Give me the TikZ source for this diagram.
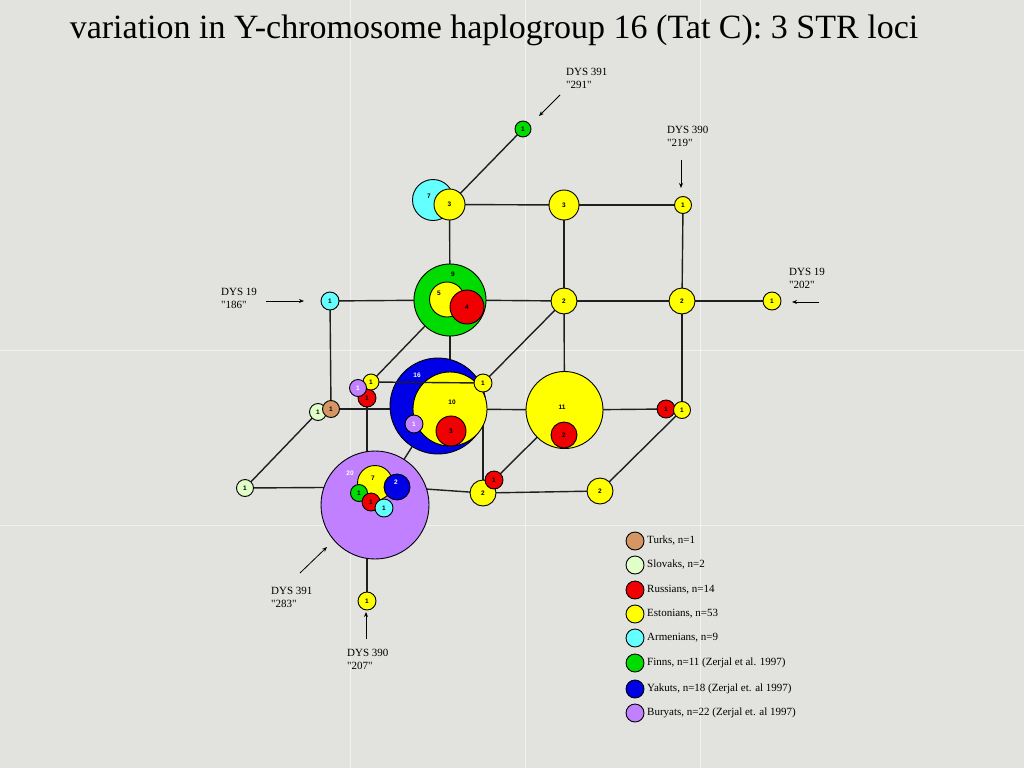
\documentclass[tikz,border=0pt]{standalone}
\usepackage{fontspec}
\setmainfont{Liberation Serif}[Ligatures=TeXOff]
\setsansfont{Liberation Sans}
\usetikzlibrary{arrows.meta,backgrounds}
\definecolor{bg}{RGB}{226,226,223}
\definecolor{yel}{RGB}{255,255,0}
\definecolor{rd}{RGB}{240,0,0}
\definecolor{grn}{RGB}{0,220,0}
\definecolor{cyn}{RGB}{100,255,255}
\definecolor{blu}{RGB}{0,0,230}
\definecolor{lil}{RGB}{192,128,255}
\definecolor{trk}{RGB}{214,150,100}
\definecolor{slv}{RGB}{225,255,200}
\begin{document}
\begin{tikzpicture}[x=1pt,y=-1pt,
 hap/.style={circle,draw=black,line width=0.9pt,inner sep=0pt,outer sep=0pt,font=\sffamily\bfseries\fontsize{6.5}{6.5}\selectfont},
 num/.style={font=\sffamily\bfseries\fontsize{6.5}{6.5}\selectfont,inner sep=0pt},
 wnum/.style={num,text=white},
 edge/.style={draw=black!88,line width=1.4pt},
 arr/.style={-{Stealth[length=5pt,width=4pt]},line width=0.8pt},
 lab/.style={font=\fontsize{11}{13}\selectfont,align=left,anchor=north west,inner sep=0pt},
 leg/.style={font=\fontsize{11}{12}\selectfont,anchor=west,inner sep=0pt},
 grid/.style={draw=white,line width=1pt,opacity=0.55},
]
\useasboundingbox (0,0) rectangle (1024,768);
% background
\begin{scope}[on background layer]
\fill[bg] (0,0) rectangle (1024,768);
\foreach \gx in {350,525,700} {\draw[grid] (\gx,0) -- (\gx,768);}
\foreach \gy in {350,525} {\draw[grid] (0,\gy) -- (1024,\gy);}
\end{scope}

% title
\node[font=\fontsize{34}{34}\selectfont,inner sep=0pt] (title) at (494,30) {variation in Y-chromosome haplogroup 16 (Tat C): 3 STR loci};

% top row
\node[hap,fill=grn,minimum size=16pt] (g1) at (523,129) {1};
\node[hap,fill=cyn,minimum size=41pt] (c7) at (433,200) {};
\node[num] (c7l) at (429,196) {7};
\node[hap,fill=yel,minimum size=31pt] (y3a) at (449.5,204.5) {3};
\node[hap,fill=yel,minimum size=30pt] (y3b) at (564,205) {3};
\node[hap,fill=yel,minimum size=17pt] (y1a) at (683,205) {1};

% second row
\node[hap,fill=grn,minimum size=72pt] (g9) at (450,300) {};
\node[num] (g9l) at (453,274) {9};
\node[hap,fill=yel,minimum size=35pt] (y5) at (447,299.5) {};
\node[num] (y5l) at (439,293) {5};
\node[hap,fill=rd,minimum size=34pt] (r4) at (467,307) {4};
\node[hap,fill=cyn,minimum size=18pt] (c1) at (330,301) {1};
\node[hap,fill=yel,minimum size=26pt] (y2a) at (564,301) {2};
\node[hap,fill=yel,minimum size=26pt] (y2b) at (682,301) {2};
\node[hap,fill=yel,minimum size=18pt] (y1b) at (772,301) {1};

% third row
\node[hap,fill=blu,minimum size=96pt] (b16) at (438,406) {};
\node[wnum] (b16l) at (417,375) {16};
\node[hap,fill=yel,minimum size=74pt] (y10) at (450,409) {};
\node[num] (y10l) at (452,402) {10};
\node[hap,fill=rd,minimum size=30pt] (r3) at (451,431) {3};
\node[hap,fill=lil,minimum size=18pt,text=white] (l1a) at (414,424) {1};
\node[hap,fill=yel,minimum size=18pt] (y1c) at (483,383) {1};
\node[hap,fill=rd,minimum size=18pt] (r1a) at (367,398) {1};
\node[hap,fill=yel,minimum size=16pt] (y1d) at (371,382) {1};
\node[hap,fill=lil,minimum size=17pt,text=white] (l1b) at (358,388) {1};
\node[hap,fill=slv,minimum size=17pt] (s1a) at (318,412) {1};
\node[hap,fill=trk,minimum size=17pt] (t1) at (331,409) {1};
\node[hap,fill=yel,minimum size=77pt] (y11) at (564.5,410) {};
\node[num] (y11l) at (562,407) {11};
\node[hap,fill=rd,minimum size=26pt] (r2) at (564,435) {2};
\node[hap,fill=rd,minimum size=18pt] (r1b) at (666,409) {1};
\node[hap,fill=yel,minimum size=17pt] (y1e) at (682,410) {1};

% fourth row
\node[hap,fill=slv,minimum size=17pt] (s1b) at (245,488) {1};
\node[hap,fill=lil,minimum size=108pt] (p20) at (375,505) {};
\node[wnum] (p20l) at (350,473) {20};
\node[hap,fill=yel,minimum size=35pt] (y7) at (375,483) {};
\node[num] (y7l) at (373,478) {7};
\node[hap,fill=blu,minimum size=26pt] (b2) at (397,487) {};
\node[wnum] (b2l) at (396,482) {2};
\node[hap,fill=grn,minimum size=17pt] (g1b) at (359,493) {1};
\node[hap,fill=rd,minimum size=18pt] (r1c) at (371,502) {1};
\node[hap,fill=cyn,minimum size=18pt] (c1b) at (384,508) {1};
\node[hap,fill=yel,minimum size=26pt] (y2c) at (483,493) {2};
\node[hap,fill=rd,minimum size=18pt] (r1d) at (494,480) {1};
\node[hap,fill=yel,minimum size=26pt] (y2d) at (600,491) {2};
\node[hap,fill=yel,minimum size=18pt] (y1f) at (367,601) {1};

% edges
\begin{scope}[on background layer]
\draw[edge] (g1) -- (y3a);
\draw[edge] (y3a) -- (y3b);
\draw[edge] (y3b) -- (y1a);
\draw[edge] (y3a) -- (g9);
\draw[edge] (y3b) -- (y2a);
\draw[edge] (y1a) -- (y2b);
\draw[edge] (c1) -- (g9);
\draw[edge] (g9) -- (y2a);
\draw[edge] (y2a) -- (y2b);
\draw[edge] (y2b) -- (y1b);
\draw[edge] (c1) -- (t1);
\draw[edge] (g9) -- (y10);
\draw[edge] (g9) -- (y1d);
\draw[edge] (y2a) -- (y1c);
\draw[edge] (y2b) -- (y1e);
\draw[edge] (y2a) -- (y11);
\draw[edge] (t1) -- (y10);
\draw[edge] (y10) -- (y11);
\draw[edge] (y11) -- (r1b);
\draw[edge] (s1a) -- (s1b);
\draw[edge] (r1a) -- (y1f);
\draw[edge] (s1b) -- (b2);
\draw[edge] (b2) -- (y2c);
\draw[edge] (y2c) -- (y2d);
\draw[edge] (y1c) -- (y2c);
\draw[edge] (b16) -- (p20);
\draw[edge] (r1d) -- (y11);
\draw[edge] (y2d) -- (y1e);
\end{scope}
\draw[edge] (y1d) -- (y1c);

% locus labels and arrows
\node[lab] (d391a) at (566,68) {DYS 391\\"291"};
\coordinate (a1s) at (560,95); \coordinate (a1e) at (539,116);
\draw[arr] (a1s) -- (a1e);
\node[lab] (d390a) at (667,126) {DYS 390\\"219"};
\coordinate (a2s) at (681,160); \coordinate (a2e) at (681,188);
\draw[arr] (a2s) -- (a2e);
\node[lab] (d19a) at (221,288) {DYS 19\\"186"};
\coordinate (a3s) at (266,301); \coordinate (a3e) at (304,301);
\draw[arr] (a3s) -- (a3e);
\node[lab] (d19b) at (789,268) {DYS 19\\"202"};
\coordinate (a4s) at (819,302); \coordinate (a4e) at (792,302);
\draw[arr] (a4s) -- (a4e);
\node[lab] (d391b) at (271,587) {DYS 391\\"283"};
\coordinate (a5s) at (300,573); \coordinate (a5e) at (327,547);
\draw[arr] (a5s) -- (a5e);
\node[lab] (d390b) at (347,649) {DYS 390\\"207"};
\coordinate (a6s) at (366,639); \coordinate (a6e) at (366,612);
\draw[arr] (a6s) -- (a6e);

% legend
\node[hap,fill=trk,minimum size=18pt] (lc1) at (635,541) {};
\node[leg] (lt1) at (647,541) {Turks, n=1};
\node[hap,fill=slv,minimum size=18pt] (lc2) at (635,565) {};
\node[leg] (lt2) at (647,565) {Slovaks, n=2};
\node[hap,fill=rd,minimum size=18pt] (lc3) at (635,590) {};
\node[leg] (lt3) at (647,590) {Russians, n=14};
\node[hap,fill=yel,minimum size=18pt] (lc4) at (635,614) {};
\node[leg] (lt4) at (647,614) {Estonians, n=53};
\node[hap,fill=cyn,minimum size=18pt] (lc5) at (635,638) {};
\node[leg] (lt5) at (647,638) {Armenians, n=9};
\node[hap,fill=grn,minimum size=18pt] (lc6) at (635,663) {};
\node[leg] (lt6) at (647,663) {Finns, n=11 (Zerjal et al. 1997)};
\node[hap,fill=blu,minimum size=18pt] (lc7) at (635,689) {};
\node[leg] (lt7) at (647,689) {Yakuts, n=18 (Zerjal et. al 1997)};
\node[hap,fill=lil,minimum size=18pt] (lc8) at (635,713) {};
\node[leg] (lt8) at (647,713) {Buryats, n=22 (Zerjal et. al 1997)};
\end{tikzpicture}
\end{document}
